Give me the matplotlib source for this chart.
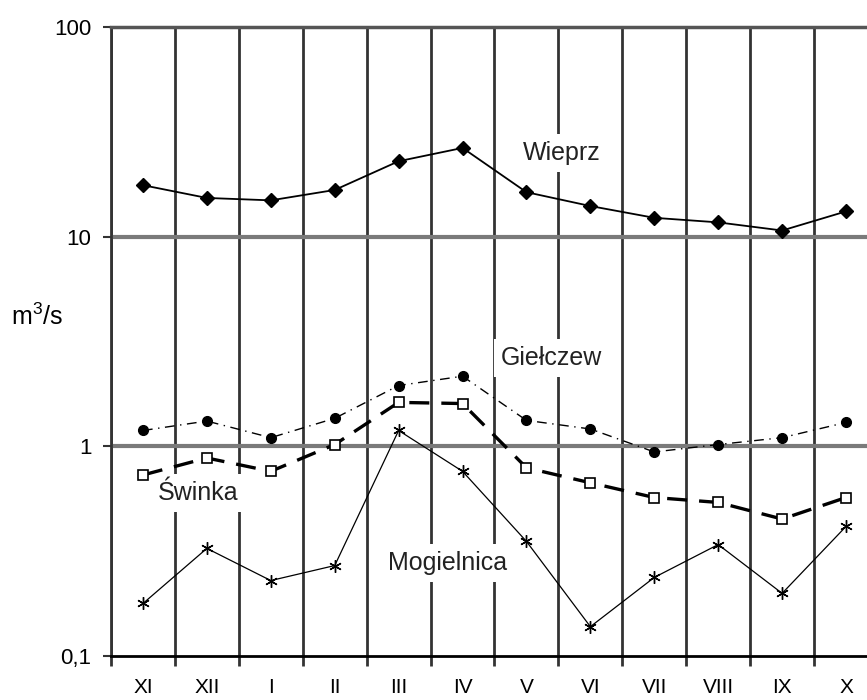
"""Mean monthly discharge of the Wieprz and its tributaries (log scale)."""

import matplotlib

matplotlib.use("Agg")
import matplotlib.pyplot as plt
import numpy as np

plt.rcParams["font.family"] = ["Liberation Sans", "DejaVu Sans"]
plt.rcParams["mathtext.fontset"] = "custom"
plt.rcParams["mathtext.rm"] = "Liberation Sans"

months = ["XI", "XII", "I", "II", "III", "IV", "V", "VI", "VII", "VIII", "IX", "X"]

wieprz = [17.6, 15.3, 14.9, 16.7, 22.9, 26.5, 16.3, 14.0, 12.3, 11.7, 10.7, 13.2]
gielczew = [1.19, 1.32, 1.10, 1.36, 1.95, 2.16, 1.33, 1.21, 0.94, 1.02, 1.10, 1.30]
swinka = [0.73, 0.88, 0.76, 1.02, 1.62, 1.60, 0.79, 0.67, 0.57, 0.54, 0.45, 0.57]
mogielnica = [0.178, 0.326, 0.229, 0.270, 1.19, 0.76, 0.352, 0.138, 0.237, 0.34, 0.199, 0.415]

y_ticks = [0.1, 1, 10, 100]
y_tick_labels = ["0,1", "1", "10", "100"]

W, H = 867, 700
fig = plt.figure(figsize=(W / 100, H / 100), dpi=100)
# the plot runs past the right edge of the picture, as in the original
ax = fig.add_axes([111 / W, 44 / H, 767 / W, 629 / H])

x = np.arange(len(months))

ax.plot(x, wieprz, color="black", lw=1.3, marker="D", ms=7, zorder=4)
ax.plot(x, gielczew, color="black", lw=1.0, ls=(0, (7, 4, 1, 4)),
        marker="o", ms=7, zorder=4)
ax.plot(x, swinka, color="black", lw=2.4, ls=(0, (6, 3.6)),
        marker="s", ms=7, mfc="white", mec="black", mew=1.2, zorder=4)
ax.plot(x, mogielnica, color="black", lw=0.9, marker=(6, 2, 0), ms=9,
        mew=1.0, zorder=4)

ax.set_yscale("log")
ax.set_ylim(0.1, 100)
ax.set_xlim(-0.5, len(months) - 0.5)

ax.set_yticks(y_ticks)
ax.set_yticklabels(y_tick_labels)
ax.yaxis.set_minor_locator(matplotlib.ticker.NullLocator())
ax.tick_params(axis="y", length=6, width=1.5, pad=8, labelsize=16, color="#333333")

ax.set_xticks(x)
ax.set_xticklabels(months)
ax.set_xticks(np.arange(len(months) + 1) - 0.5, minor=True)
ax.tick_params(axis="x", which="major", length=0, pad=16, labelsize=15)
ax.tick_params(axis="x", which="minor", length=7, width=2, color="#333333")

ax.set_axisbelow(True)
ax.grid(axis="x", which="minor", color="#333333", lw=2)
for level in [1, 10]:
    ax.axhline(level, color="#7a7a7a", lw=3, zorder=1)

ax.spines["top"].set_color("#555555")
ax.spines["top"].set_linewidth(2.5)
ax.spines["bottom"].set_linewidth(2)
ax.spines["left"].set_linewidth(2)
ax.spines["left"].set_color("#333333")
ax.spines["right"].set_visible(False)

ax.set_ylabel("m$^3$/s", rotation=0, fontsize=18, ha="center", va="center")
ax.yaxis.set_label_coords(-0.097, 0.54)

box = dict(facecolor="white", edgecolor="none", pad=5)
labels = [
    ("Wieprz", 6.56, 25.0),
    ("Giełczew", 6.39, 2.63),
    ("Świnka", 0.86, 0.597),
    ("Mogielnica", 4.76, 0.279),
]
for name, lx, ly in labels:
    ax.text(lx, ly, name, fontsize=18, ha="center", va="center",
            color="#222222", bbox=box, zorder=3)

fig.savefig("out.png", dpi=100)
